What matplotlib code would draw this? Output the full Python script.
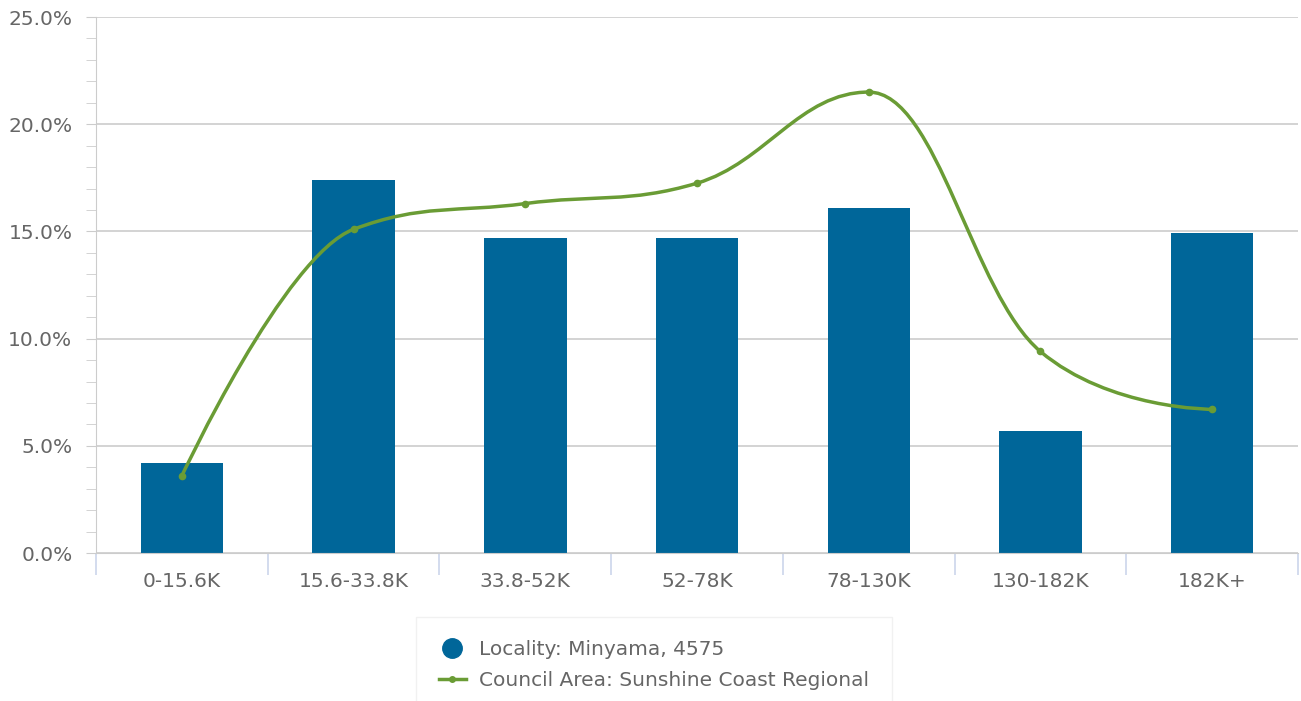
import numpy as np
import matplotlib
matplotlib.use("Agg")
from matplotlib import pyplot as plt
from matplotlib.path import Path
from matplotlib.patches import PathPatch
from matplotlib.lines import Line2D
from matplotlib.ticker import MultipleLocator, PercentFormatter

# Income brackets (weekly household income)
categories = ["0-15.6K", "15.6-33.8K", "33.8-52K", "52-78K", "78-130K", "130-182K", "182K+"]
locality_pct = [4.2, 17.4, 14.7, 14.7, 16.1, 5.7, 14.95]
council_pct = [3.6, 15.1, 16.3, 17.25, 21.5, 9.4, 6.7]

bar_color = "#006699"
line_color = "#6a9c35"
text_color = "#666666"
grid_color = "#cccccc"


def spline_path(xs, ys, smoothing=1.5):
    # Highcharts-style spline: cubic bezier with control points from neighbours
    denom = smoothing + 1
    n = len(xs)
    left = [None] * n
    right = [None] * n
    for i in range(1, n - 1):
        px, py = xs[i], ys[i]
        lx, ly = xs[i - 1], ys[i - 1]
        nx, ny = xs[i + 1], ys[i + 1]
        lcx = (smoothing * px + lx) / denom
        lcy = (smoothing * py + ly) / denom
        rcx = (smoothing * px + nx) / denom
        rcy = (smoothing * py + ny) / denom
        corr = ((rcy - lcy) * (rcx - px)) / (rcx - lcx) + py - rcy
        lcy += corr
        rcy += corr
        if lcy > ly and lcy > py:
            lcy = max(ly, py)
            rcy = 2 * py - lcy
        elif lcy < ly and lcy < py:
            lcy = min(ly, py)
            rcy = 2 * py - lcy
        if rcy > ny and rcy > py:
            rcy = max(ny, py)
            lcy = 2 * py - rcy
        elif rcy < ny and rcy < py:
            rcy = min(ny, py)
            lcy = 2 * py - rcy
        left[i] = (lcx, lcy)
        right[i] = (rcx, rcy)
    verts = [(xs[0], ys[0])]
    codes = [Path.MOVETO]
    for i in range(1, n):
        c1 = right[i - 1] or (xs[i - 1], ys[i - 1])
        c2 = left[i] or (xs[i], ys[i])
        verts += [c1, c2, (xs[i], ys[i])]
        codes += [Path.CURVE4] * 3
    return Path(verts, codes)


plt.rcParams["font.family"] = "DejaVu Sans"

fig = plt.figure(figsize=(13.01, 7.01), dpi=100)
ax = fig.add_axes([0.0738, 0.2111, 0.9239, 0.7646])

x = np.arange(len(categories))
ax.bar(x, locality_pct, width=0.48, color=bar_color, zorder=2)

path = spline_path(list(x.astype(float)), council_pct)
ax.add_patch(PathPatch(path, facecolor="none", edgecolor=line_color, lw=2.5, zorder=3))
ax.plot(x, council_pct, "o", color=line_color, ms=4.5, zorder=4)

ax.set_xlim(-0.5, len(categories) - 0.5)
ax.set_ylim(0, 25)
ax.yaxis.set_major_locator(MultipleLocator(5))
ax.yaxis.set_minor_locator(MultipleLocator(1))
ax.yaxis.set_major_formatter(PercentFormatter(decimals=1))
ax.grid(axis="y", color=grid_color, lw=1.2, zorder=0)

for side in ["top", "right"]:
    ax.spines[side].set_visible(False)
ax.spines["left"].set_color(grid_color)
ax.spines["bottom"].set_color(grid_color)

ax.tick_params(axis="y", which="major", length=7, color=grid_color, labelsize=14.5,
               labelcolor=text_color, pad=10)
ax.tick_params(axis="y", which="minor", length=7, color=grid_color)
ax.set_xticks(x, categories)
ax.tick_params(axis="x", length=0, labelsize=14.5, labelcolor=text_color, pad=14)
# category boundary ticks below x axis
ax.set_xticks(np.arange(len(categories) + 1) - 0.5, minor=True)
ax.tick_params(axis="x", which="minor", length=16, color="#ccd6eb", width=1.2)

handles = [
    Line2D([], [], marker="o", ls="none", color=bar_color, ms=14),
    Line2D([], [], marker="o", color=line_color, lw=2.5, ms=4),
]
leg = fig.legend(handles, ["Locality: Minyama, 4575", "Council Area: Sunshine Coast Regional"],
                 loc="upper center", bbox_to_anchor=(654 / 1301, 1 - 617 / 701), frameon=True,
                 fancybox=False, edgecolor="#eeeeee", fontsize=14.5, labelcolor=text_color,
                 handlelength=1.35, handletextpad=0.65, borderpad=1.15, labelspacing=0.6,
                 borderaxespad=0)
leg.get_frame().set_linewidth(1)

fig.savefig("out.png", dpi=100)
